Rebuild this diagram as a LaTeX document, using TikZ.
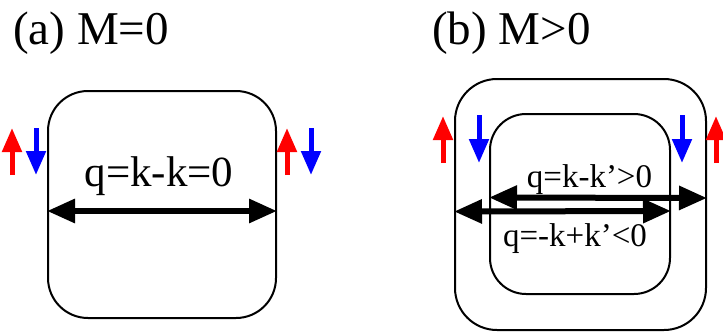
\documentclass[tikz,border=0pt]{standalone}
\usepackage{fontspec}
\setmainfont{Liberation Serif}
\usetikzlibrary{arrows.meta}

\begin{document}
\begin{tikzpicture}[x=1pt, y=-1pt]
    \tikzstyle{band} = [draw, line width=2pt, inner sep=0pt]
    \tikzstyle{qarrow} = [line width=6pt, {Triangle[length=28pt, width=23pt]}-{Triangle[length=28pt, width=23pt]}]
    \tikzstyle{spin} = [line width=5pt, -{Triangle[length=24pt, width=19pt]}]
    \tikzstyle{lbl} = [anchor=base, inner sep=0pt]
    \useasboundingbox (0,0) rectangle (723,333);

    % (a) M=0
    \node[lbl, anchor=base west, font=\fontsize{47}{50}\selectfont] (titleA) at (13,44) {(a) M=0};
    \node[band, rounded corners=40pt, minimum width=228pt, minimum height=227pt] (boxA) at (162,204.5) {};
    \draw[qarrow] ([yshift=-6.5pt]boxA.west) -- ([yshift=-6.5pt]boxA.east);
    \node[lbl, font=\fontsize{43}{46}\selectfont] (qA) at (159,186) {q=k-k=0};
    \foreach \x in {12,287} {
        \draw[spin, red] (\x,175) -- (\x,128);
        \draw[spin, blue] (\x+24,128) -- (\x+24,175);
    }

    % (b) M>0
    \node[lbl, anchor=base west, font=\fontsize{47}{50}\selectfont] (titleB) at (432,44) {(b) M>0};
    \node[band, rounded corners=42pt, minimum width=251pt, minimum height=251pt] (outer) at (580.5,204.5) {};
    \node[band, rounded corners=36pt, minimum width=180pt, minimum height=180pt] (inner) at (580,204) {};
    \draw[qarrow] ([yshift=6.5pt]inner.west) -- ([yshift=6.5pt]outer.east);
    \draw[qarrow] ([yshift=-7pt]outer.west) -- ([yshift=-7pt]inner.east);
    \node[lbl, font=\fontsize{33}{36}\selectfont] (qB1) at (589.5,187) {q=k-k'>0};
    \node[lbl, font=\fontsize{33}{36}\selectfont] (qB2) at (575,246) {q=-k+k'<0};
    \draw[spin, red] (443,163) -- (443,116);
    \draw[spin, blue] (479,115) -- (479,163);
    \draw[spin, blue] (682,115) -- (682,163);
    \draw[spin, red] (716,163) -- (716,116);
\end{tikzpicture}
\end{document}
